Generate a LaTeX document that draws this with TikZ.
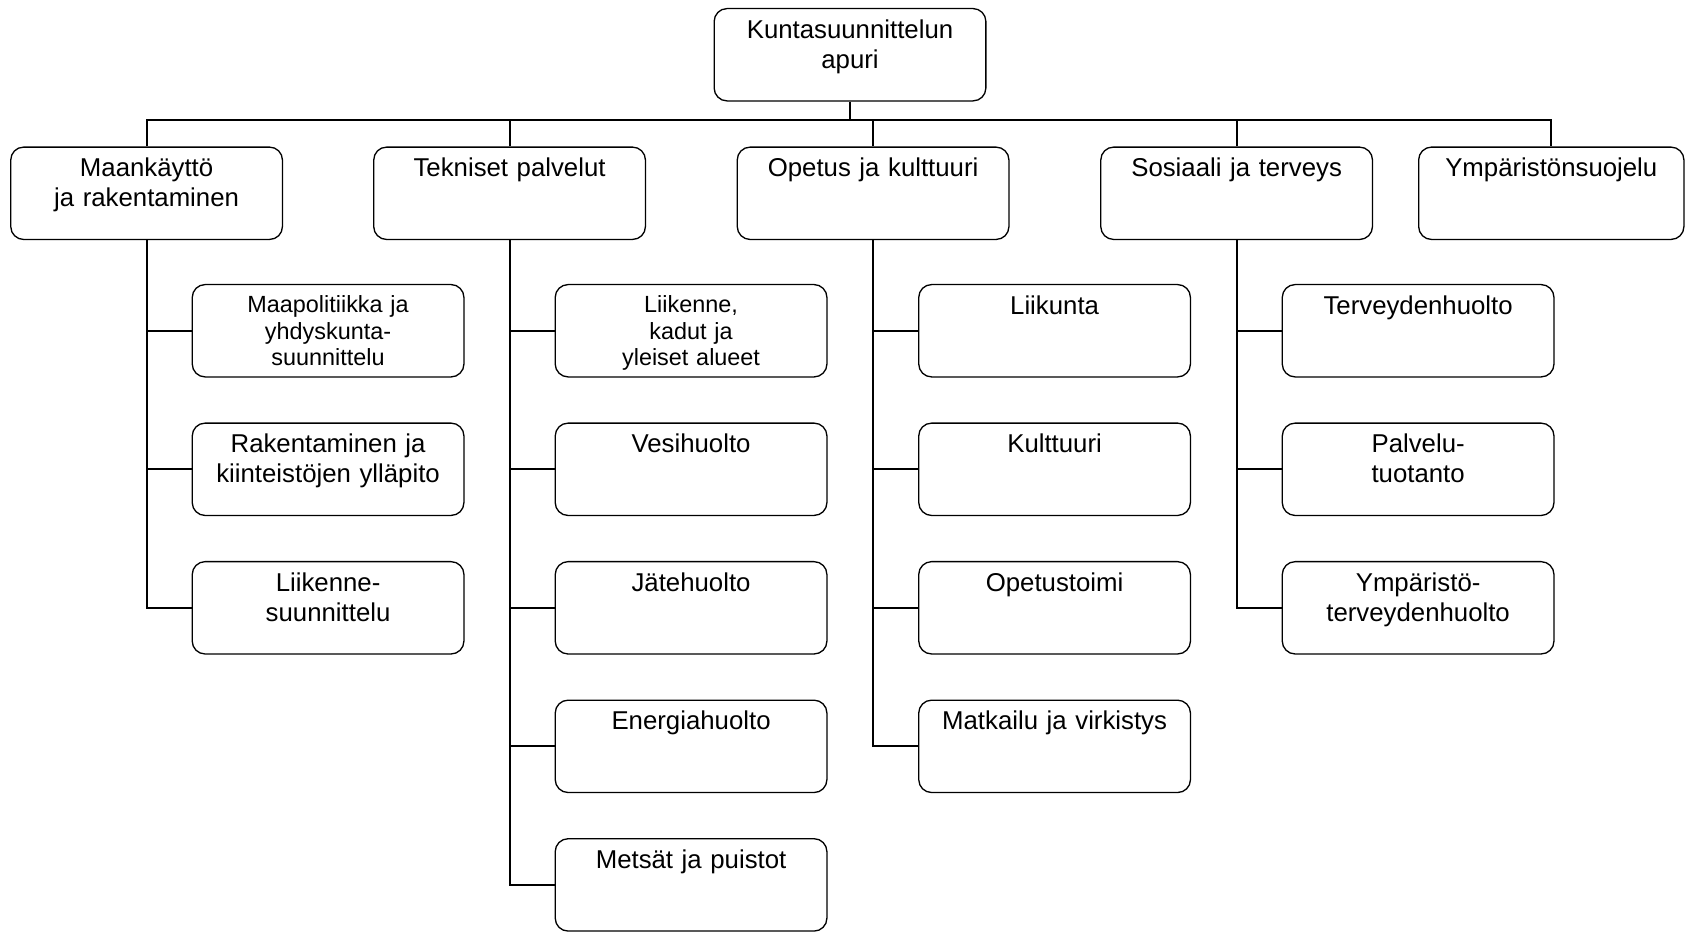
\documentclass[tikz,border=0pt]{standalone}
\usepackage{fontspec}
\setmainfont{Liberation Sans}

\begin{document}
\begin{tikzpicture}[
      box/.style={draw, line width=0.35pt, rounded corners=0.12cm, align=center,
        inner xsep=0.05cm, inner ysep=0pt, text width=2.43cm,
        text height=0.275cm, text depth=0.585cm,
        font=\fontsize{6.83pt}{7.97pt}\selectfont},
      smallbox/.style={box, text height=0.258cm, text depth=0.602cm,
        font=\fontsize{6.2pt}{7.11pt}\selectfont},
      link/.style={line width=0.5pt}
  ]
  \useasboundingbox (0,0) rectangle (15.69,8.67);

  % Top of the tree
  \node[box] (root) at (7.915,8.16) {Kuntasuunnittelun\\apuri};
  \coordinate (bus) at (7.915,7.55);

  % Main sectors
  \node[box] (maa) at (1.365,6.87) {Maankäyttö\\ja rakentaminen};
  \node[box] (tek) at (4.745,6.87) {Tekniset palvelut};
  \node[box] (ope) at (8.13,6.87) {Opetus ja kulttuuri};
  \node[box] (sos) at (11.515,6.87) {Sosiaali ja terveys};
  \node[box, text width=2.37cm] (ymp) at (14.445,6.87) {Ympäristönsuojelu};

  % Maankäyttö ja rakentaminen
  \node[smallbox] (maa1) at (3.055,5.59) {Maapolitiikka ja\\yhdyskunta-\\suunnittelu};
  \node[box] (maa2) at (3.055,4.30) {Rakentaminen ja\\kiinteistöjen ylläpito};
  \node[box] (maa3) at (3.055,3.01) {Liikenne-\\suunnittelu};

  % Tekniset palvelut
  \node[smallbox] (tek1) at (6.435,5.59) {Liikenne,\\kadut ja\\yleiset alueet};
  \node[box] (tek2) at (6.435,4.30) {Vesihuolto};
  \node[box] (tek3) at (6.435,3.01) {Jätehuolto};
  \node[box] (tek4) at (6.435,1.72) {Energiahuolto};
  \node[box] (tek5) at (6.435,0.43) {Metsät ja puistot};

  % Opetus ja kulttuuri
  \node[box] (ope1) at (9.82,5.59) {Liikunta};
  \node[box] (ope2) at (9.82,4.30) {Kulttuuri};
  \node[box] (ope3) at (9.82,3.01) {Opetustoimi};
  \node[box] (ope4) at (9.82,1.72) {Matkailu ja virkistys};

  % Sosiaali ja terveys
  \node[box] (sos1) at (13.205,5.59) {Terveydenhuolto};
  \node[box] (sos2) at (13.205,4.30) {Palvelu-\\tuotanto};
  \node[box] (sos3) at (13.205,3.01) {Ympäristö-\\terveydenhuolto};

  % Bus under the top box
  \draw[link] (root.south) -- (bus);
  \draw[link] (maa.north) |- (bus) -| (ymp.north);
  \draw[link] (tek.north) -- (tek.north |- bus);
  \draw[link] (ope.north) -- (ope.north |- bus);
  \draw[link] (sos.north) -- (sos.north |- bus);

  % Trunks down each column
  \draw[link] (maa.south) |- (maa3.west);
  \draw[link] (maa1.west) -- (maa1.west -| maa.south);
  \draw[link] (maa2.west) -- (maa2.west -| maa.south);

  \draw[link] (tek.south) |- (tek5.west);
  \draw[link] (tek1.west) -- (tek1.west -| tek.south);
  \draw[link] (tek2.west) -- (tek2.west -| tek.south);
  \draw[link] (tek3.west) -- (tek3.west -| tek.south);
  \draw[link] (tek4.west) -- (tek4.west -| tek.south);

  \draw[link] (ope.south) |- (ope4.west);
  \draw[link] (ope1.west) -- (ope1.west -| ope.south);
  \draw[link] (ope2.west) -- (ope2.west -| ope.south);
  \draw[link] (ope3.west) -- (ope3.west -| ope.south);

  \draw[link] (sos.south) |- (sos3.west);
  \draw[link] (sos1.west) -- (sos1.west -| sos.south);
  \draw[link] (sos2.west) -- (sos2.west -| sos.south);

\end{tikzpicture}
\end{document}
